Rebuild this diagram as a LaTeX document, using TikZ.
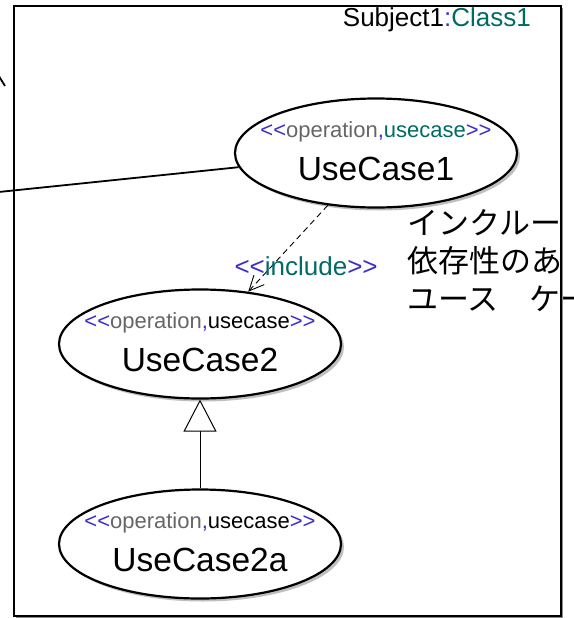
\documentclass[tikz,border=0pt]{standalone}
\usepackage{fontspec}
\setmainfont{Liberation Sans}
\newfontfamily\jpfont{Noto Sans CJK JP}
\usetikzlibrary{shapes.geometric,arrows.meta,shadows}

\definecolor{stereoblue}{HTML}{3A2FCC}
\definecolor{classteal}{HTML}{006B66}
\definecolor{opgray}{HTML}{666666}

\newcommand{\stereo}[2]{\textcolor{stereoblue}{<{}<}#1\textcolor{stereoblue}{,}#2\textcolor{stereoblue}{>{}>}}

\tikzset{
  subject/.style={draw,fill=white,line width=2pt,minimum width=547pt,minimum height=610pt,
    drop shadow={shadow xshift=2pt,shadow yshift=-2pt,fill=black!45,opacity=1}},
  usecase/.style={ellipse,draw,fill=white,line width=2.2pt,minimum width=282pt,minimum height=109pt,
    drop shadow={shadow xshift=3pt,shadow yshift=-3pt,fill=black!25,opacity=1}},
  stereotype/.style={inner sep=0pt,text=opgray,font=\fontsize{22}{26}\selectfont},
  ucname/.style={inner sep=0pt,font=\fontsize{33.5}{40}\selectfont},
}

\begin{document}
\begin{tikzpicture}[x=1pt,y=-1pt]
  \clip (0,0) rectangle (573,618);

  % Subject1
  \node[subject] (subj) at (287.5,311) {};
  \node[anchor=base east,inner sep=0pt,font=\fontsize{26}{30}\selectfont] (title) at (531,27)
    {Subject1\textcolor{stereoblue}{:}\textcolor{classteal}{Class1}};

  % actor (outside the picture)
  \coordinate (actor) at (-40,196);
  \draw[line width=1.8pt] (-3,73) -- (5,86);

  % UseCase1
  \node[usecase] (uc1) at (376,153) {};
  \node[stereotype] (uc1st) at ([yshift=21pt]uc1.center) {\stereo{operation}{\textcolor{classteal}{usecase}}};
  \node[ucname] (uc1name) at ([yshift=-16pt]uc1.center) {UseCase1};

  % UseCase2
  \node[usecase] (uc2) at (200,344) {};
  \node[stereotype] (uc2st) at ([yshift=21pt]uc2.center) {\stereo{operation}{\textcolor{black}{usecase}}};
  \node[ucname] (uc2name) at ([yshift=-16pt]uc2.center) {UseCase2};

  % UseCase2a
  \node[usecase] (uc2a) at (200,544) {};
  \node[stereotype] (uc2ast) at ([yshift=21pt]uc2a.center) {\stereo{operation}{\textcolor{black}{usecase}}};
  \node[ucname] (uc2aname) at ([yshift=-16pt]uc2a.center) {UseCase2a};

  % note
  \node[anchor=north west,align=left,inner sep=0pt,font=\jpfont\fontsize{31}{38}\selectfont] (note) at (407,209)
    {インクルー\\依存性のあ\\ユース　ケー};

  \draw[line width=1.8pt] (uc1) -- (actor);
  \path[draw,line width=0.9pt,dash pattern=on 6pt off 4pt,-{Straight Barb[length=15pt,width=14pt]}]
    (uc1) -- node[pos=0.7,xshift=34pt,inner sep=0pt,text=classteal,font=\fontsize{26}{30}\selectfont] (inc)
      {\textcolor{stereoblue}{<{}<}include\textcolor{stereoblue}{>{}>}} (uc2);
  \draw[line width=1pt,-{Triangle[open,length=32pt,width=33pt,fill=white]}] (uc2a) -- (uc2);
\end{tikzpicture}
\end{document}
